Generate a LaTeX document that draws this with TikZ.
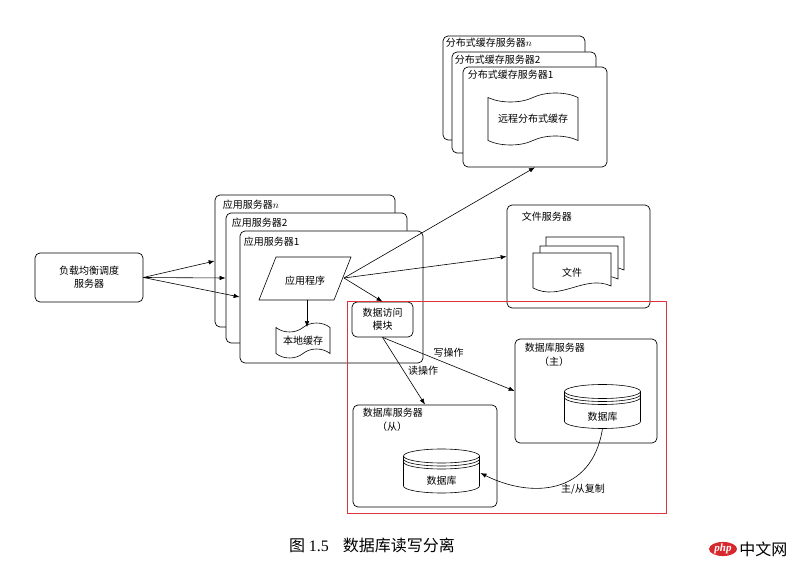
\documentclass[tikz,border=0pt]{standalone}
\usepackage{fontspec}
\setmainfont{Noto Sans CJK SC}
\newfontfamily\capserif{Liberation Serif}
\usepackage{tikz}
\definecolor{zred}{HTML}{E0323C}
\definecolor{phpred}{HTML}{D7282D}
\usetikzlibrary{shapes.symbols,shapes.geometric}
\usetikzlibrary{arrows.meta,positioning}

\begin{document}
\begin{tikzpicture}[x=1pt,y=1pt]
    \tikzset{
      srv/.style={rectangle,draw,fill=white,rounded corners=5pt,line width=.7pt},
      lbl/.style={anchor=west,inner sep=0pt,font=\fontsize{10}{12}\selectfont},
      txt/.style={align=center,inner sep=0pt,font=\fontsize{10}{13}\selectfont},
      band/.style={tape,draw,fill=white,line width=.6pt,tape bend height=9pt},
      doc/.style={draw,fill=white,line width=.6pt},
      zone/.style={rectangle,draw=zred,line width=.6pt},
      arr/.style={-{Latex[length=6pt,width=4.5pt]},line width=.6pt},
      pics/dbase/.style={code={
        \draw[doc] (-38,15) -- (-38,-15) arc[start angle=180,end angle=360,x radius=38pt,y radius=7pt]
          -- (38,15) arc[start angle=0,end angle=180,x radius=38pt,y radius=7pt] -- cycle;
        \foreach \dy in {15,12,9}
          \draw[line width=.6pt] (-38,\dy) arc[start angle=180,end angle=360,x radius=38pt,y radius=7pt];
        \coordinate (-bot) at (0,-22);
        \coordinate (-east) at (39,-2);
        \node[txt] at (0,-10) (-txt) {数据库};
      }}}
    \useasboundingbox (0,0) rectangle (800,568);

    \node[srv,txt,minimum width=108pt,minimum height=49pt] at (89,290.5) (lb) {负载均衡调度\\服务器};

    \node[srv,minimum width=180pt,minimum height=132pt] at (305,307) (appn) {};
    \node[srv,minimum width=181pt,minimum height=130pt] at (316.5,290) (app2) {};
    \node[srv,minimum width=183pt,minimum height=132pt] at (331.5,271) (app1) {};
    \node[lbl] at ([shift={(8,-10)}]appn.north west) (appnl) {应用服务器$n$};
    \node[lbl] at ([shift={(6,-10)}]app2.north west) (app2l) {应用服务器2};
    \node[lbl] at ([shift={(4,-11)}]app1.north west) (app1l) {应用服务器1};

    \draw[doc] (276,311) -- (351,311) -- (334,268) -- (259,268) -- cycle;
    \node[txt] at (305,287) (prog) {应用程序};
    \coordinate (progR) at (344,290);
    \coordinate (progB) at (307,268);
    \node[band,txt,minimum width=54pt,minimum height=35pt] at (303,227.5) (lcache) {本地缓存};
    \node[srv,txt,minimum width=61pt,minimum height=35pt] at (382.5,248.5) (dam) {数据访问\\模块};

    \node[srv,minimum width=142pt,minimum height=104pt] at (514,480) (cachen) {};
    \node[srv,minimum width=144pt,minimum height=101pt] at (524,465.5) (cache2) {};
    \node[srv,minimum width=144pt,minimum height=100pt] at (535,451) (cache1) {};
    \node[lbl] at ([shift={(3,-7)}]cachen.north west) (cachenl) {分布式缓存服务器$n$};
    \node[lbl] at ([shift={(3,-8)}]cache2.north west) (cache2l) {分布式缓存服务器2};
    \node[lbl] at ([shift={(5,-8)}]cache1.north west) (cache1l) {分布式缓存服务器1};
    \node[band,txt,minimum width=90pt,minimum height=52pt] at (533,449) (rcache) {远程分布式缓存};

    \node[srv,minimum width=143pt,minimum height=103pt] at (578.5,311.5) (fs) {};
    \node[lbl] at ([shift={(15,-12)}]fs.north west) (fsl) {文件服务器};
    \foreach \dx/\dy in {13/16,7/7,0/0}
      \draw[doc,shift={(\dx,\dy)}] (533,315) -- (533,280) .. controls (560,266) and (585,294) .. (611,282) -- (611,315) -- cycle;
    \node[txt] at (572,295) (file) {文件};

    \node[srv,minimum width=142pt,minimum height=104pt] at (586,177) (master) {};
    \node[lbl] at ([shift={(10,-9)}]master.north west) (masterl) {数据库服务器};
    \node[txt] at (554,206) (masterm) {（主）};
    \pic (dbm) at (602.5,161.5) {dbase};

    \node[srv,minimum width=144pt,minimum height=102pt] at (425,112) (slave) {};
    \node[lbl] at ([shift={(10,-8)}]slave.north west) (slavel) {数据库服务器};
    \node[txt] at (392,141) (slavem) {（从）};
    \pic (dbs) at (441.5,97) {dbase};

    \node[zone,minimum width=319pt,minimum height=212pt] at (506.5,161) (zone) {};

    \draw[arr] (lb.east) -- (appn.west);
    \draw[arr] (lb.east) -- (app2.west);
    \draw[arr] (lb.east) -- (app1.west);
    \draw[arr] (progB) -- (progB |- lcache.north);
    \draw[arr] (progR) -- (dam.north);
    \draw[arr] (progR) -- (cache1.south);
    \draw[arr] (progR) -- (fs.west);
    \draw[arr] (dam.south) -- (slave.north) node[txt,midway,anchor=west,xshift=4pt] (rd) {读操作};
    \draw[arr] (dam.south) -- (master.west) node[txt,midway,above=7pt] (wr) {写操作};
    \draw[arr] (dbm-bot) .. controls (592,72) and (530,70) .. (dbs-east);
    \node[txt] at (583,79) (repl) {主/从复制};

    \node[anchor=west,inner sep=0pt,font=\fontsize{16}{18}\selectfont] at (289,23) (caption) {图 {\capserif 1.5}\hspace{14pt}数据库读写分离};
    \node[ellipse,fill=phpred,text=white,inner sep=0pt,minimum width=28pt,minimum height=13pt,
      font=\capserif\bfseries\itshape\fontsize{11}{12}\selectfont] at (723,19) (php) {php};
    \node[right=2pt of php,inner sep=0pt,font=\fontsize{16}{18}\selectfont] (phpcn) {中文网};
\end{tikzpicture}
\end{document}
